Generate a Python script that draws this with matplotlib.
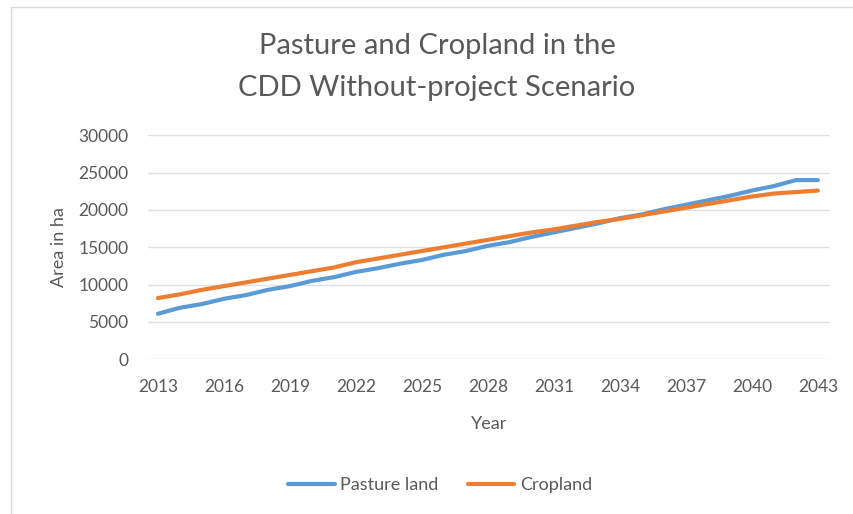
#!/usr/bin/env python3
import numpy as np
import matplotlib
matplotlib.use('Agg')
import matplotlib.pyplot as plt
from matplotlib.patches import Rectangle

years = list(range(2013, 2044))
pasture = [6100, 6900, 7400, 8100, 8600, 9300, 9800, 10500, 11000, 11700,
           12200, 12800, 13300, 14000, 14500, 15200, 15700, 16400, 17000, 17600,
           18200, 18900, 19400, 20100, 20700, 21300, 21900, 22600, 23200, 24000,
           24000]
cropland = [8200, 8700, 9300, 9800, 10300, 10800, 11300, 11800, 12300, 13000,
            13500, 14000, 14500, 15000, 15500, 16000, 16500, 17000, 17400, 17900,
            18400, 18800, 19300, 19800, 20300, 20800, 21300, 21800, 22200, 22400,
            22600]
xticks = list(range(2013, 2044, 3))
yticks = list(range(0, 30001, 5000))

txt = '#595959'
plt.rcParams['font.family'] = ['Lato', 'DejaVu Sans']

fig = plt.figure(figsize=(8.54, 5.14), dpi=100)
# chart frame (only left and top edges are visible in the crop)
fig.patches.append(Rectangle((11 / 854, -0.1), 2.0, 1 - 7 / 514 + 0.1,
                             transform=fig.transFigure, fill=False,
                             edgecolor='#D9D9D9', linewidth=1.0))

ax = fig.add_axes([148 / 854, 1 - 359.3 / 514, (830 - 148) / 854, (359.3 - 135.3) / 514])
ax.plot(years, pasture, color='#5B9BD5', linewidth=3.0, label='Pasture land',
        solid_capstyle='round')
ax.plot(years, cropland, color='#ED7D31', linewidth=3.0, label='Cropland',
        solid_capstyle='round')

ax.set_xlim(2012.55, 2043.55)
ax.set_ylim(0, 30000)
ax.set_xticks(xticks)
ax.set_yticks(yticks)
ax.tick_params(length=0, labelsize=12.5, colors=txt, pad=14)
ax.tick_params(axis='x', pad=14)
ax.grid(axis='y', color='#E0E0E0', linewidth=1.0)
ax.set_axisbelow(True)
for s in ax.spines.values():
    s.set_visible(False)

ax.set_ylabel('Area in ha', fontsize=13, color=txt, labelpad=8)
ax.set_xlabel('Year', fontsize=13, color=txt, labelpad=15)

fig.text(437 / 854, 1 - 67 / 514, 'Pasture and Cropland in the\nCDD Without-project Scenario',
         ha='center', va='center', fontsize=21, color=txt, linespacing=1.75)

fig.legend(loc='center', bbox_to_anchor=(440 / 854, 1 - 485 / 514), ncol=2,
           frameon=False, fontsize=13, labelcolor=txt, handlelength=2.6,
           handletextpad=0.3, columnspacing=1.6)

fig.savefig('out.png', dpi=100)
